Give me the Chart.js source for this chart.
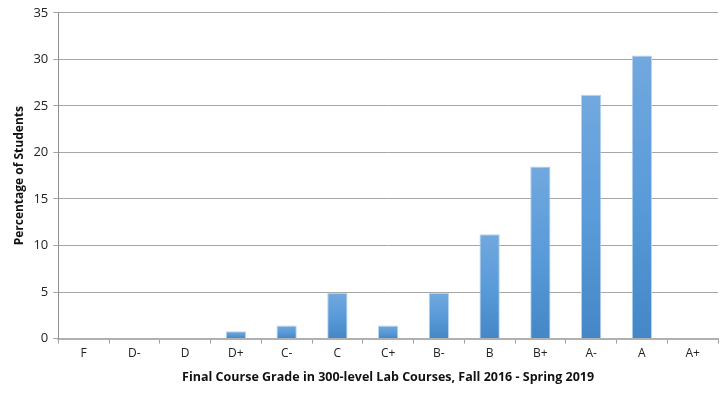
<!DOCTYPE html>
<html><head><meta charset="utf-8">
<script src="https://cdn.jsdelivr.net/npm/chart.js@4/dist/chart.umd.min.js"></script>
<style>html,body{margin:0;padding:0;background:#fff}#wrap{width:720px;height:401px}</style>
</head><body><div id="wrap"><canvas id="c" width="720" height="401"></canvas></div>
<script>
const categories = ["F","D-","D","D+","C-","C","C+","B-","B","B+","A-","A","A+"];
const percentages = [0,0,0,0.8,1.4,4.9,1.4,4.9,11.2,18.5,26.2,30.4,0];
const yTicks = [0,5,10,15,20,25,30,35];
const FONT = "'Open Sans', 'Liberation Sans', sans-serif";

function barFill(ctx){
  const chart = ctx.chart;
  const y = chart.scales.y;
  if(!y || ctx.parsed == null) return '#5b9bd5';
  const top = y.getPixelForValue(ctx.parsed.y), bot = y.getPixelForValue(0);
  if(!isFinite(top) || top === bot) return '#5b9bd5';
  const g = chart.ctx.createLinearGradient(0, top, 0, bot);
  g.addColorStop(0, '#72a8de');
  g.addColorStop(0.5, '#5a9bd9');
  g.addColorStop(1, '#4586c6');
  return g;
}

new Chart(document.getElementById('c'), {
  type: 'bar',
  data: { labels: categories, datasets: [{ data: percentages, backgroundColor: barFill, borderColor: '#b9d3ee', borderWidth: 1, categoryPercentage: 0.8, barPercentage: 0.5 }] },
  options: {
    responsive: false, animation: false,
    layout: { padding: { top: 2, right: 2, left: 8, bottom: 12 } },
    plugins: { legend: { display: false }, tooltip: { enabled: false } },
    scales: {
      x: {
        grid: { display: true, drawOnChartArea: false, drawTicks: true, tickLength: 5, color: '#a0a0a0', offset: true },
        border: { display: true, color: '#b0b0b0', width: 2 },
        ticks: { color: '#222', font: { family: FONT, size: 12 }, padding: 3 },
        title: { display: true, text: 'Final Course Grade in 300-level Lab Courses, Fall 2016 - Spring 2019', color: '#111', font: { family: FONT, size: 12.5, weight: 'bold' }, padding: { top: 6 } }
      },
      y: {
        min: 0, max: 35,
        afterBuildTicks: (s) => { s.ticks = yTicks.map(v => ({ value: v })); },
        grid: { color: '#a6a6a6', lineWidth: 1, tickLength: 5 },
        border: { display: true, color: '#909090', width: 1 },
        ticks: { color: '#222', font: { family: FONT, size: 13 }, padding: 5 },
        title: { display: true, text: 'Percentage of Students', color: '#111', font: { family: FONT, size: 12, weight: 'bold' }, padding: { bottom: 2 } }
      }
    }
  }
});
</script></body></html>
